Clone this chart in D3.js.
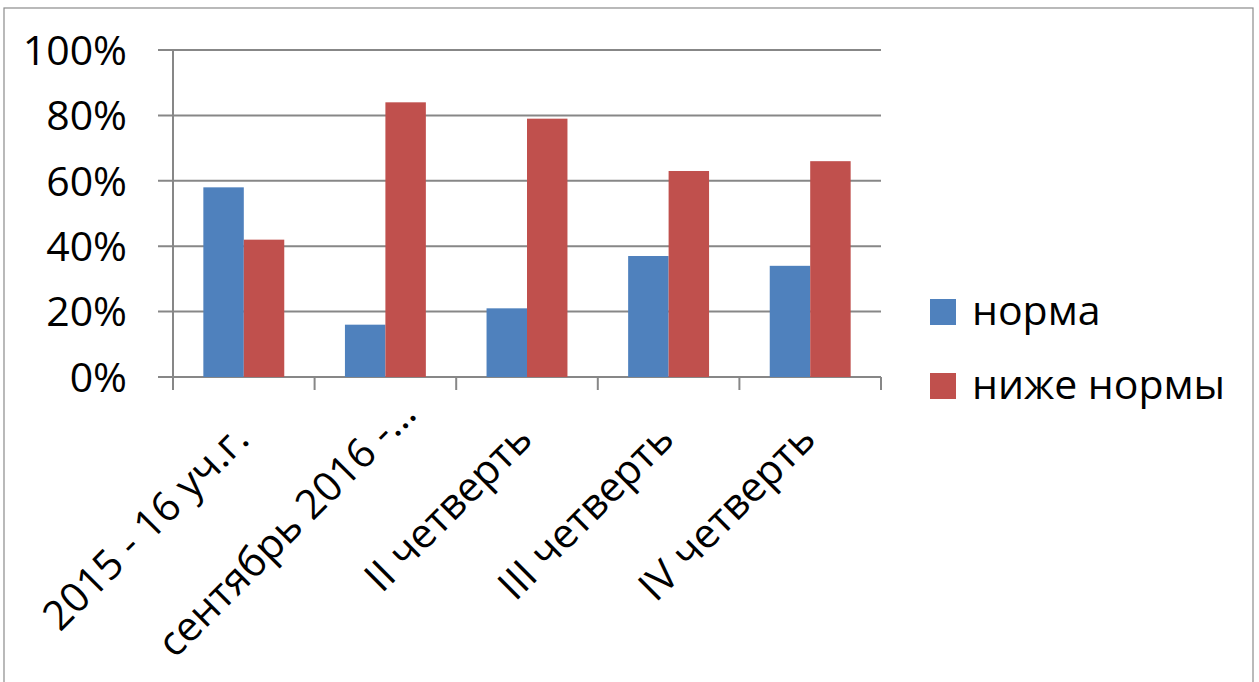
<!DOCTYPE html>
<html>
<head>
<meta charset="utf-8">
<script src="https://cdn.jsdelivr.net/npm/d3@7"></script>
<style>
  body { margin: 0; background: #fff; }
  text { font-family: "Open Sans", "DejaVu Sans", sans-serif; fill: #000; }
</style>
</head>
<body>
<div id="chart"></div>
<script>
// data
var categories = ["2015 - 16 уч.г.", "сентябрь 2016 -…", "II четверть", "III четверть", "IV четверть"];
var seriesNames = ["норма", "ниже нормы"];
var normaValues = [0.58, 0.16, 0.21, 0.37, 0.34];
var belowValues = [0.42, 0.84, 0.79, 0.63, 0.66];
var yTicks = [0, 0.2, 0.4, 0.6, 0.8, 1];
var colors = ["#4F81BD", "#C0504D"];

var W = 1259, H = 682;
var plotLeft = 173, plotRight = 881, plotTop = 50, plotBottom = 377;

var svg = d3.select("#chart").append("svg")
    .attr("width", W)
    .attr("height", H);

// outer frame
svg.append("rect")
    .attr("x", 4).attr("y", 8)
    .attr("width", 1249).attr("height", 690)
    .attr("fill", "none")
    .attr("stroke", "#8c8c8c")
    .attr("stroke-width", 1.2);

var x = d3.scaleBand().domain(categories).range([plotLeft, plotRight]).paddingInner(0).paddingOuter(0);
// excel gap width 150% -> 2 bars + 1.5 bar widths of gap
var x1 = d3.scaleBand().domain(seriesNames).range([0, x.bandwidth()]).paddingInner(0).paddingOuter(0.75);
var y = d3.scaleLinear().domain([0, 1]).range([plotBottom, plotTop]);

// gridlines (with little tick stubs to the left)
svg.append("g").selectAll("line").data(yTicks).enter().append("line")
    .attr("x1", plotLeft - 15).attr("x2", plotRight)
    .attr("y1", function (d) { return y(d); })
    .attr("y2", function (d) { return y(d); })
    .attr("stroke", "#878787")
    .attr("stroke-width", 2);

// y axis line
svg.append("line")
    .attr("x1", plotLeft).attr("x2", plotLeft)
    .attr("y1", plotTop).attr("y2", plotBottom + 13)
    .attr("stroke", "#878787").attr("stroke-width", 2);

// category tick marks below the axis
var bounds = categories.map(function (c) { return x(c); }).concat([plotRight]);
svg.append("g").selectAll("line").data(bounds.slice(1)).enter().append("line")
    .attr("x1", function (d) { return d; }).attr("x2", function (d) { return d; })
    .attr("y1", plotBottom).attr("y2", plotBottom + 13)
    .attr("stroke", "#878787").attr("stroke-width", 2);

var fmt = d3.format(".0%");
svg.append("g").selectAll("text").data(yTicks).enter().append("text")
    .attr("x", 127)
    .attr("y", function (d) { return y(d); })
    .attr("dy", "0.36em")
    .attr("text-anchor", "end")
    .attr("font-size", 41)
    .text(function (d) { return fmt(d); });

// bars
var rows = categories.map(function (c, i) {
  return {cat: c, vals: [normaValues[i], belowValues[i]]};
});
var groups = svg.append("g").selectAll("g").data(rows).enter().append("g")
    .attr("transform", function (d) { return "translate(" + x(d.cat) + ",0)"; });
groups.selectAll("rect").data(function (d) {
      return d.vals.map(function (v, j) { return {name: seriesNames[j], v: v, j: j}; });
    }).enter().append("rect")
    .attr("x", function (d) { return x1(d.name); })
    .attr("width", x1.bandwidth())
    .attr("y", function (d) { return y(d.v); })
    .attr("height", function (d) { return plotBottom - y(d.v); })
    .attr("fill", function (d) { return colors[d.j]; });

// rotated category labels
svg.append("g").selectAll("text").data(categories).enter().append("text")
    .attr("transform", function (d) {
      var cx = x(d) + x.bandwidth() / 2;
      return "translate(" + (cx - 3) + "," + 431 + ") rotate(-45)";
    })
    .attr("text-anchor", "end")
    .attr("dx", function (d) { return d.slice(-1) === "…" ? 36 : 0; }) // truncated label sits further out
    .attr("dy", "0.36em")
    .attr("font-size", 41)
    .text(function (d) { return d; });

// legend
var legend = svg.append("g").selectAll("g").data(seriesNames).enter().append("g")
    .attr("transform", function (d, i) { return "translate(930," + (299 + i * 74) + ")"; });
legend.append("rect")
    .attr("width", 26).attr("height", 26)
    .attr("fill", function (d, i) { return colors[i]; });
legend.append("text")
    .attr("x", 42).attr("y", 13)
    .attr("dy", "0.32em")
    .attr("font-size", 41)
    .text(function (d) { return d; });
</script>
</body>
</html>
